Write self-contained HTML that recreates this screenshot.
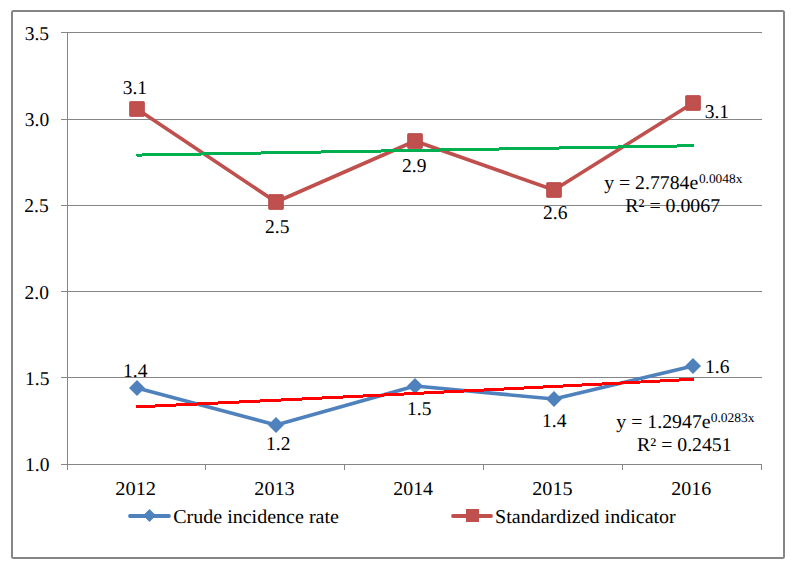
<!DOCTYPE html>
<html>
<head>
<meta charset="utf-8">
<style>
html,body{margin:0;padding:0;background:#fff;}
body{width:791px;height:568px;overflow:hidden;}
svg{display:block;}
text{font-family:"Liberation Serif",serif;font-size:19.5px;fill:#000;text-rendering:geometricPrecision;}
text.sup{font-size:13.3px;}
</style>
</head>
<body>
<svg width="791" height="568" viewBox="0 0 791 568">
<rect x="0" y="0" width="791" height="568" fill="#fff"/>
<rect x="12" y="11" width="772" height="547" fill="none" stroke="#858585" stroke-width="2" rx="1.5"/>
<g stroke="#868686" stroke-width="1" shape-rendering="crispEdges">
<line x1="61" y1="32.5" x2="762" y2="32.5"/>
<line x1="61" y1="119.5" x2="762" y2="119.5"/>
<line x1="61" y1="205.5" x2="762" y2="205.5"/>
<line x1="61" y1="291.5" x2="762" y2="291.5"/>
<line x1="61" y1="377.5" x2="762" y2="377.5"/>
<line x1="61" y1="464.5" x2="762" y2="464.5"/>
<line x1="67.5" y1="32" x2="67.5" y2="470"/>
<line x1="205.5" y1="464" x2="205.5" y2="470"/>
<line x1="344.5" y1="464" x2="344.5" y2="470"/>
<line x1="483.5" y1="464" x2="483.5" y2="470"/>
<line x1="622.5" y1="464" x2="622.5" y2="470"/>
<line x1="761.5" y1="464" x2="761.5" y2="470"/>
</g>
<polyline points="137,109 276,202 415,141 554,190 693,103" fill="none" stroke="#C0504D" stroke-width="3.6" stroke-linejoin="round" stroke-linecap="round"/>
<rect x="129.55" y="101.55" width="14.9" height="14.9" rx="1" fill="#C0504D" stroke="#B94A47" stroke-width="0.8"/>
<rect x="268.55" y="194.55" width="14.9" height="14.9" rx="1" fill="#C0504D" stroke="#B94A47" stroke-width="0.8"/>
<rect x="407.55" y="133.55" width="14.9" height="14.9" rx="1" fill="#C0504D" stroke="#B94A47" stroke-width="0.8"/>
<rect x="546.55" y="182.55" width="14.9" height="14.9" rx="1" fill="#C0504D" stroke="#B94A47" stroke-width="0.8"/>
<rect x="685.55" y="95.55" width="14.9" height="14.9" rx="1" fill="#C0504D" stroke="#B94A47" stroke-width="0.8"/>
<polyline points="137,388 276,425 415,386 554,399 693,366" fill="none" stroke="#4F81BD" stroke-width="3.6" stroke-linejoin="round" stroke-linecap="round"/>
<path d="M137,380 L145,388 L137,396 L129,388 Z" fill="#4F81BD"/>
<path d="M276,417 L284,425 L276,433 L268,425 Z" fill="#4F81BD"/>
<path d="M415,378 L423,386 L415,394 L407,386 Z" fill="#4F81BD"/>
<path d="M554,391 L562,399 L554,407 L546,399 Z" fill="#4F81BD"/>
<path d="M693,358 L701,366 L693,374 L685,366 Z" fill="#4F81BD"/>
<polyline points="137.0,155.08 150.9,154.85 164.8,154.62 178.7,154.39 192.6,154.16 206.5,153.92 220.4,153.69 234.3,153.46 248.2,153.23 262.1,152.99 276.0,152.76 289.9,152.53 303.8,152.30 317.7,152.06 331.6,151.83 345.5,151.60 359.4,151.36 373.3,151.13 387.2,150.90 401.1,150.66 415.0,150.43 428.9,150.20 442.8,149.96 456.7,149.73 470.6,149.49 484.5,149.26 498.4,149.02 512.3,148.79 526.2,148.55 540.1,148.32 554.0,148.09 567.9,147.85 581.8,147.62 595.7,147.38 609.6,147.14 623.5,146.91 637.4,146.67 651.3,146.44 665.2,146.20 679.1,145.97 693.0,145.73" fill="none" stroke="#00B050" stroke-width="3.0" stroke-linecap="round" shape-rendering="crispEdges"/>
<polyline points="137.0,406.85 150.9,406.20 164.8,405.55 178.7,404.89 192.6,404.23 206.5,403.57 220.4,402.91 234.3,402.25 248.2,401.58 262.1,400.92 276.0,400.25 289.9,399.58 303.8,398.90 317.7,398.23 331.6,397.55 345.5,396.87 359.4,396.19 373.3,395.51 387.2,394.83 401.1,394.14 415.0,393.45 428.9,392.76 442.8,392.07 456.7,391.38 470.6,390.68 484.5,389.98 498.4,389.28 512.3,388.58 526.2,387.88 540.1,387.17 554.0,386.46 567.9,385.75 581.8,385.04 595.7,384.33 609.6,383.61 623.5,382.89 637.4,382.17 651.3,381.45 665.2,380.72 679.1,380.00 693.0,379.27" fill="none" stroke="#FF0000" stroke-width="3.0" stroke-linecap="round" shape-rendering="crispEdges"/>
<text x="24.70" y="40">3.5</text>
<text x="24.75" y="126">3.0</text>
<text x="24.30" y="212">2.5</text>
<text x="24.50" y="299">2.0</text>
<text x="25.10" y="385">1.5</text>
<text x="25.10" y="471">1.0</text>
<text x="115.25" y="495" textLength="40.79" lengthAdjust="spacingAndGlyphs">2012</text>
<text x="254.37" y="495" textLength="40.26" lengthAdjust="spacingAndGlyphs">2013</text>
<text x="393.28" y="495" textLength="39.72" lengthAdjust="spacingAndGlyphs">2014</text>
<text x="532.26" y="495" textLength="40.37" lengthAdjust="spacingAndGlyphs">2015</text>
<text x="671.28" y="495" textLength="39.92" lengthAdjust="spacingAndGlyphs">2016</text>
<text x="122.70" y="94">3.1</text>
<text x="265.10" y="233">2.5</text>
<text x="402.00" y="172">2.9</text>
<text x="543.10" y="219">2.6</text>
<text x="704.70" y="118">3.1</text>
<text x="123.10" y="377">1.4</text>
<text x="266.10" y="450">1.2</text>
<text x="407.10" y="415">1.5</text>
<text x="542.10" y="427">1.4</text>
<text x="705.00" y="373">1.6</text>
<text x="604.2" y="189" textLength="94.09" lengthAdjust="spacingAndGlyphs">y = 2.7784e</text>
<text x="698.9" y="183" class="sup" textLength="43.42" lengthAdjust="spacingAndGlyphs">0.0048x</text>
<text x="625.28" y="212" textLength="94.86" lengthAdjust="spacingAndGlyphs">R² = 0.0067</text>
<text x="616.3" y="428" textLength="94.29" lengthAdjust="spacingAndGlyphs">y = 1.2947e</text>
<text x="710.7" y="422" class="sup" textLength="43.72" lengthAdjust="spacingAndGlyphs">0.0283x</text>
<text x="637.09" y="451" textLength="94.57" lengthAdjust="spacingAndGlyphs">R² = 0.2451</text>
<text x="173.17" y="523" textLength="165.78" lengthAdjust="spacingAndGlyphs">Crude incidence rate</text>
<text x="495.07" y="523" textLength="180.71" lengthAdjust="spacingAndGlyphs">Standardized indicator</text>
<line x1="130" y1="516" x2="169" y2="516" stroke="#4F81BD" stroke-width="3.8" stroke-linecap="round"/>
<path d="M149.5,509.1 L155.9,515.5 L149.5,521.9 L143.1,515.5 Z" fill="#4F81BD"/>
<line x1="453" y1="516" x2="491" y2="516" stroke="#C0504D" stroke-width="3.8" stroke-linecap="round"/>
<rect x="466" y="509" width="13" height="13" fill="#C0504D"/>
</svg>
</body>
</html>
